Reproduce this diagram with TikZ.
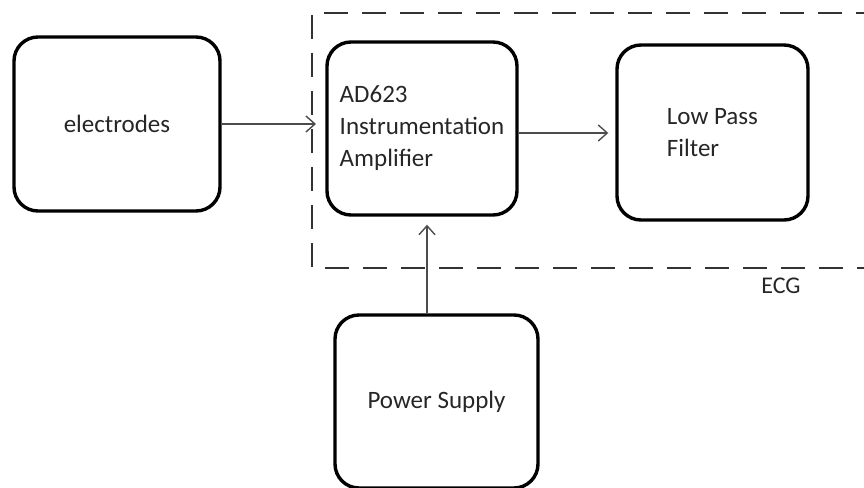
\documentclass[tikz,border=0pt]{standalone}
\usepackage{fontspec}
\setmainfont{Carlito}
\usepackage{tikz}
\usetikzlibrary{positioning,arrows.meta}

\begin{document}
\begin{tikzpicture}[
    x=1pt, y=-1pt,
    every node/.style={font=\fontsize{25}{32}\selectfont, text=black!85},
    block/.style={draw, line width=3.4pt, rounded corners=24pt, align=left},
    arr/.style={-{Straight Barb[length=9pt, width=16pt, line width=1.4pt]}, line width=1.4pt, draw=black!70},
    ecgframe/.style={dashed, dash pattern=on 24pt off 14pt, line width=2pt, draw=black!80}
]
\useasboundingbox (0,0) rectangle (864,487);
\clip (0,0) rectangle (864,487);

% blocks
\node[block, minimum width=206pt, minimum height=174pt] (elec) at (117,124) {electrodes};
\node[block, minimum width=190pt, minimum height=173pt] (amp) at (422,128.5) {AD623\\Instrumentation\\Amplifier};
\node[block, minimum width=191pt, minimum height=175pt] (lpf) at (712.5,132.5) {Low Pass\\Filter};
\node[block, minimum width=203pt, minimum height=173pt] (psu) at (436.5,401.5) {Power Supply};

% ECG frame (runs off the right edge)
\draw[ecgframe] (880,13) -| (312,268) -- (880,268);
\node[font=\fontsize{24}{28}\selectfont] (ecg) at (781,286) {ECG};
\coordinate (ampin) at (316,124);

% connections
\draw[arr] (elec.east) -- (ampin);
\draw[arr, shorten >=7pt] (amp.east |- 0,133) -- (lpf.west |- 0,133);
\draw[arr, shorten >=8pt] ([xshift=-9.5pt]psu.north) -- ([xshift=5pt]amp.south);
\end{tikzpicture}
\end{document}
